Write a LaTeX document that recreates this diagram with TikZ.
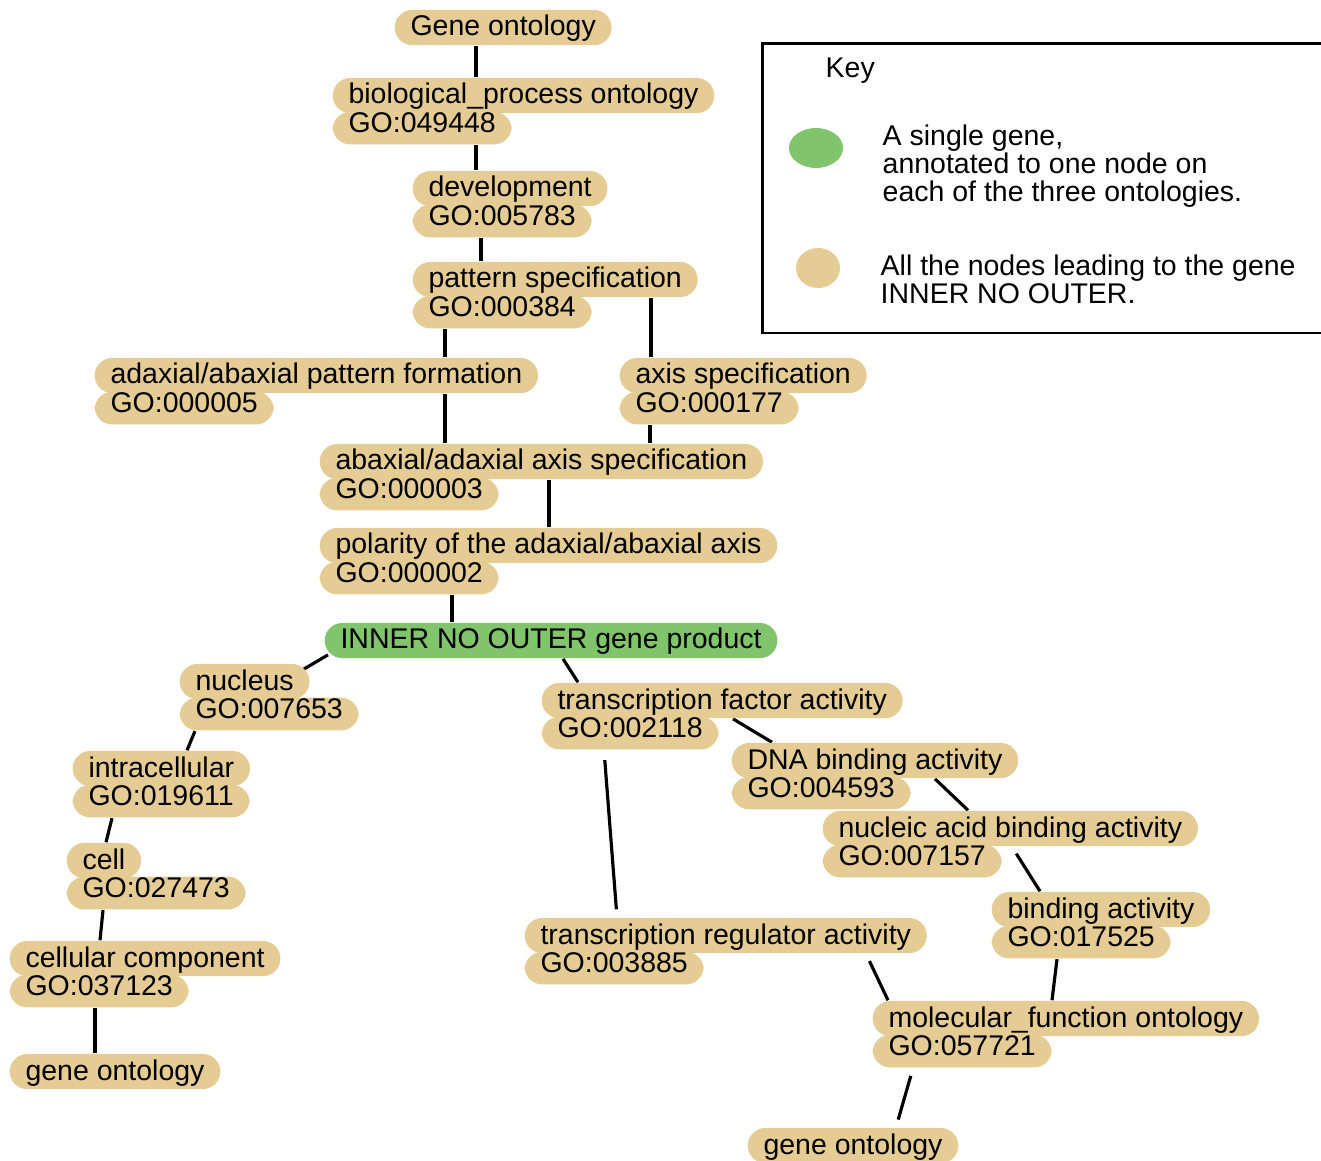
\documentclass[tikz,border=0pt]{standalone}
\usepackage{fontspec}
\setmainfont{Liberation Sans}
\usetikzlibrary{backgrounds}
\definecolor{gotan}{RGB}{228,204,148}
\definecolor{gogreen}{RGB}{128,196,108}
\begin{document}
\begin{tikzpicture}[x=0.01cm,y=-0.01cm,
    every node/.style={font=\fontsize{8.1}{8}\selectfont},
    term/.style={fill=gotan,rounded corners=5pt,inner xsep=4.5pt,inner ysep=0.8pt,
      text height=6.6pt,text depth=1.8pt,anchor=base west},
    goid/.style={term,text height=5.1pt,text depth=2.6pt,anchor=north west,yshift=0.8pt},
    link/.style={line width=0.9pt}]
  \useasboundingbox (0,0) rectangle (1321,1161);
  \node[term] (gene) at (394,36) {Gene ontology};
  \node[term] (bp) at (332,104) {biological\_process ontology};
  \node[goid] (bp-id) at (bp.south west) {GO:049448};
  \node[term] (dev) at (412,197) {development};
  \node[goid] (dev-id) at (dev.south west) {GO:005783};
  \node[term] (pat) at (412,288) {pattern specification};
  \node[goid] (pat-id) at (pat.south west) {GO:000384};
  \node[term] (adab) at (94,384) {adaxial/abaxial pattern formation};
  \node[goid] (adab-id) at (adab.south west) {GO:000005};
  \node[term] (axis) at (619,384) {axis specification};
  \node[goid] (axis-id) at (axis.south west) {GO:000177};
  \node[term] (abad) at (319,470) {abaxial/adaxial axis specification};
  \node[goid] (abad-id) at (abad.south west) {GO:000003};
  \node[term] (pol) at (319,554) {polarity of the adaxial/abaxial axis};
  \node[goid] (pol-id) at (pol.south west) {GO:000002};
  \node[term,fill=gogreen] (ino) at (324,649) {INNER NO OUTER gene product};
  \node[term] (nuc) at (179,690) {nucleus};
  \node[goid] (nuc-id) at (nuc.south west) {GO:007653};
  \node[term] (tfa) at (541,709) {transcription factor activity};
  \node[goid] (tfa-id) at (tfa.south west) {GO:002118};
  \node[term] (intra) at (72,777) {intracellular};
  \node[goid] (intra-id) at (intra.south west) {GO:019611};
  \node[term] (dna) at (731,769) {DNA binding activity};
  \node[goid] (dna-id) at (dna.south west) {GO:004593};
  \node[term] (nab) at (822,837) {nucleic acid binding activity};
  \node[goid] (nab-id) at (nab.south west) {GO:007157};
  \node[term] (cell) at (66,869) {cell};
  \node[goid] (cell-id) at (cell.south west) {GO:027473};
  \node[term] (bind) at (991,918) {binding activity};
  \node[goid] (bind-id) at (bind.south west) {GO:017525};
  \node[term] (trr) at (524,944) {transcription regulator activity};
  \node[goid] (trr-id) at (trr.south west) {GO:003885};
  \node[term] (cc) at (9,967) {cellular component};
  \node[goid] (cc-id) at (cc.south west) {GO:037123};
  \node[term] (go2) at (9,1080) {gene ontology};
  \node[term] (mf) at (872,1027) {molecular\_function ontology};
  \node[goid] (mf-id) at (mf.south west) {GO:057721};
  \node[term] (go3) at (747,1154) {gene ontology};
  \begin{pgfonlayer}{background}
    \draw[link] (476,0 |- gene.south) -- (476,0 |- bp.north);
    \draw[link] (476,0 |- bp-id.south) -- (476,0 |- dev.north);
    \draw[link] (481,0 |- dev-id.south) -- (481,0 |- pat.north);
    \draw[link] (445,0 |- pat-id.south) -- (445,0 |- adab.north);
    \draw[link] (445,0 |- adab.south) -- (445,0 |- abad.north);
    \draw[link] (651,0 |- pat.south) -- (651,0 |- axis.north);
    \draw[link] (650,0 |- axis-id.south) -- (650,0 |- abad.north);
    \draw[link] (549,0 |- abad.south) -- (549,0 |- pol.north);
    \draw[link] (452,0 |- pol-id.south) -- (452,0 |- ino.north);
    \draw[link] ([shift={(4,-4)}]ino.south west) -- ([shift={(-10,8)}]nuc.north east);
    \draw[link] ([shift={(239,0)}]ino.south west) -- ([shift={(37,0)}]tfa.north west);
    \draw[link] ([shift={(16,0)}]nuc-id.south west) -- ([shift={(115,0)}]intra.north west);
    \draw[link] ([shift={(40,0)}]intra-id.south west) -- ([shift={(40,0)}]cell.north west);
    \draw[link] ([shift={(37,0)}]cell-id.south west) -- ([shift={(91,0)}]cc.north west);
    \draw[link] (95,0 |- cc-id.south) -- (95,0 |- go2.north);
    \draw[link] ([shift={(192,0)}]tfa.south west) -- ([shift={(41,0)}]dna.north west);
    \draw[link,shorten <=0.1cm,shorten >=0.08cm] ([shift={(63,0)}]tfa-id.south west) -- ([shift={(93,0)}]trr.north west);
    \draw[link] ([shift={(204,0)}]dna.south west) -- ([shift={(146,0)}]nab.north west);
    \draw[link,shorten <=0.08cm] ([shift={(190,0)}]nab.south west) -- ([shift={(49,0)}]bind.north west);
    \draw[link] ([shift={(66,0)}]bind-id.south west) -- ([shift={(180,0)}]mf.north west);
    \draw[link,shorten <=0.08cm] ([shift={(342,0)}]trr.south west) -- ([shift={(16,0)}]mf.north west);
    \draw[link,shorten <=0.08cm,shorten >=0.08cm] ([shift={(41,0)}]mf-id.south west) -- ([shift={(149,0)}]go3.north west);
  \end{pgfonlayer}
  \draw[line width=0.85pt] (762,44) rectangle (1335,333);
  \node[anchor=base west,inner sep=0] (key) at (825,78) {Key};
  \fill[gogreen] (816,148) ellipse [x radius=0.27cm,y radius=0.2cm];
  \fill[gotan] (818,268) ellipse [x radius=0.22cm,y radius=0.2cm];
  \node[anchor=north west,inner sep=0,align=left] (keyone) at (882,124) {A single gene,\\annotated to one node on\\each of the three ontologies.};
  \node[anchor=north west,inner sep=0,align=left] (keytwo) at (880,254) {All the nodes leading to the gene\\INNER NO OUTER.};
\end{tikzpicture}
\end{document}
